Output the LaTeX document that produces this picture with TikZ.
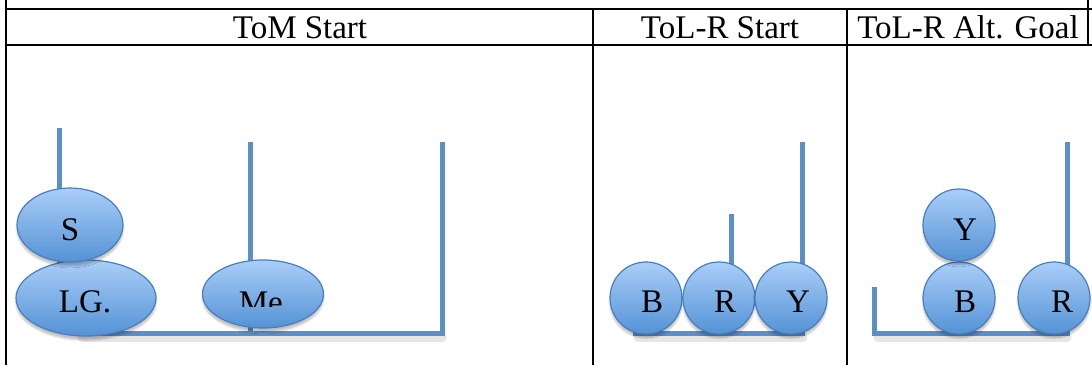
\documentclass[tikz,border=0pt]{standalone}
\usepackage{fontspec}
\setmainfont{Liberation Serif}
\usetikzlibrary{shapes.geometric,shadows.blur}

\definecolor{polecol}{RGB}{92,142,201}
\definecolor{disctop}{RGB}{170,206,248}
\definecolor{discbot}{RGB}{84,146,213}
\definecolor{discedge}{RGB}{72,126,190}

\tikzset{
  rule/.style={line width=2pt, draw=black},
  pole/.style={line width=5pt, draw=polecol, line join=miter},
  poleshadow/.style={line width=9pt, draw=black, opacity=0.10, line join=miter, line cap=round},
  disc/.style={ellipse, draw=discedge, line width=1.2pt,
    top color=disctop, bottom color=discbot, inner sep=0pt,
    blur shadow={shadow xshift=0pt, shadow yshift=-4pt,
      shadow opacity=25, shadow blur steps=6}},
  head/.style={font=\fontsize{33}{38}\selectfont, anchor=base, inner sep=0pt},
  lab/.style={font=\fontsize{33}{38}\selectfont, anchor=base, inner sep=0pt}
}

\begin{document}
\begin{tikzpicture}[x=1pt, y=-1pt]
\useasboundingbox (0,0) rectangle (1092,365);

% table rules
\draw[rule] (6,0) -- (6,365);
\draw[rule] (5,8.5) -- (1092,8.5);
\draw[rule] (5,45) -- (1092,45);
\draw[rule] (593,8.5) -- (593,365);
\draw[rule] (847,8.5) -- (847,365);
\draw[rule] (1088,0) -- (1088,45);

% column heads
\node[head] (hTom) at (300,38) {ToM Start};
\node[head] (hTolS) at (720,38) {ToL-R Start};
\node[head] (hTolG) at (968,38) {ToL-R Alt. Goal};

% ---- ToM start: pegs and base
\draw[poleshadow] (82,337) -- (442,337);
\draw[pole] (59,128) -- (59,333);
\draw[pole] (250,142) -- (250,333);
\draw[pole] (75,333) -- (442,333) -- (442,142);

\node[disc, minimum width=140pt, minimum height=76pt] (LG) at (86,298) {};
\node[disc, minimum width=106pt, minimum height=74pt] (S) at (70,225) {};
\node[disc, minimum width=121pt, minimum height=68pt] (Me) at (263,294) {};
\node[lab] (tS) at (70,240) {S};
\node[lab] (tLG) at (85,312) {LG.};
\begin{scope}
  \clip (200,250) rectangle (330,306);
  \node[lab] (tMe) at (265,313) {Me.};
\end{scope}

% ---- ToL-R start
\draw[poleshadow] (638,337) -- (803,337);
\draw[pole] (731,214) -- (731,333);
\draw[pole] (633,333) -- (802,333) -- (802,142);

\node[disc, minimum width=72pt, minimum height=72pt] (B1) at (646,298) {};
\node[disc, minimum width=72pt, minimum height=72pt] (R1) at (719,298) {};
\node[disc, minimum width=72pt, minimum height=72pt] (Y1) at (791,298) {};
\node[lab] (tB1) at (652,312) {B};
\node[lab] (tR1) at (725,312) {R};
\node[lab] (tY1) at (798,312) {Y};

% ---- ToL-R alternative goal
\draw[poleshadow] (878,337) -- (1067,337);
\draw[pole] (959,240) -- (959,333);
\draw[pole] (874,287) -- (874,333) -- (1067,333) -- (1067,142);

\node[disc, minimum width=72pt, minimum height=72pt] (B2) at (959,298) {};
\node[disc, minimum width=72pt, minimum height=72pt] (Y2) at (959,225) {};
\node[disc, minimum width=72pt, minimum height=72pt] (R2) at (1054,298) {};
\node[lab] (tY2) at (965,240) {Y};
\node[lab] (tB2) at (965,312) {B};
\node[lab] (tR2) at (1062,312) {R};
\end{tikzpicture}
\end{document}
